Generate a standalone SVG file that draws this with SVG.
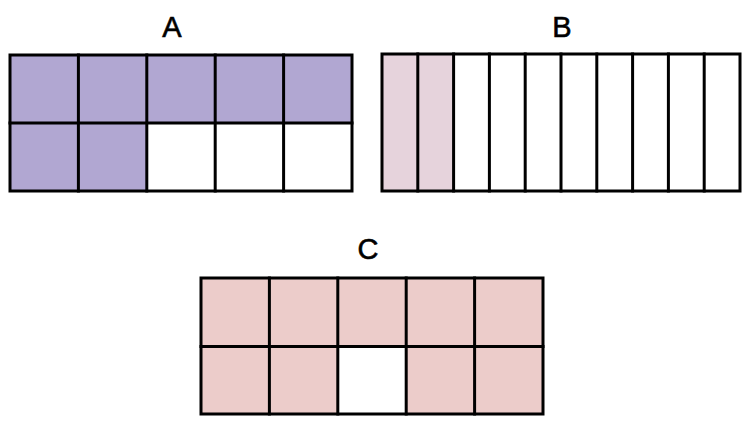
<svg xmlns="http://www.w3.org/2000/svg" width="750" height="422" viewBox="0 0 750 422">
<style>
.g{stroke:#000;stroke-width:3;fill:none;stroke-linecap:square}
.lbl{font-family:"Liberation Sans",Arial,sans-serif;font-size:29px;text-anchor:middle;fill:#000;stroke:#000;stroke-width:0.6}
.pa{fill:#b1a7d2}
.pb{fill:#e6d3dc}
.pc{fill:#ecccca}
</style>
<rect width="750" height="422" fill="#fff"/>
<g id="A">
<text class="lbl" x="172" y="37">A</text>
<rect class="pa" x="10" y="55" width="342" height="68"/>
<rect class="pa" x="10" y="123" width="137" height="68"/>
<rect class="g" x="10" y="55" width="342" height="136"/>
<path class="g" d="M10 123H352M78.4 55V191M146.8 55V191M215.2 55V191M283.6 55V191"/>
</g>
<g id="B">
<text class="lbl" x="562" y="37">B</text>
<rect class="pb" x="382" y="54" width="71.6" height="137"/>
<rect class="g" x="382" y="54" width="358" height="137"/>
<path class="g" d="M417.8 54V191M453.6 54V191M489.4 54V191M525.2 54V191M561 54V191M596.8 54V191M632.6 54V191M668.4 54V191M704.2 54V191"/>
</g>
<g id="C">
<text class="lbl" x="368" y="259">C</text>
<rect class="pc" x="201" y="278" width="342" height="136"/>
<rect fill="#fff" x="337.8" y="346.5" width="68.4" height="67.5"/>
<rect class="g" x="201" y="278" width="342" height="136"/>
<path class="g" d="M201 346.5H543M269.4 278V414M337.8 278V414M406.2 278V414M474.6 278V414"/>
</g>
</svg>
